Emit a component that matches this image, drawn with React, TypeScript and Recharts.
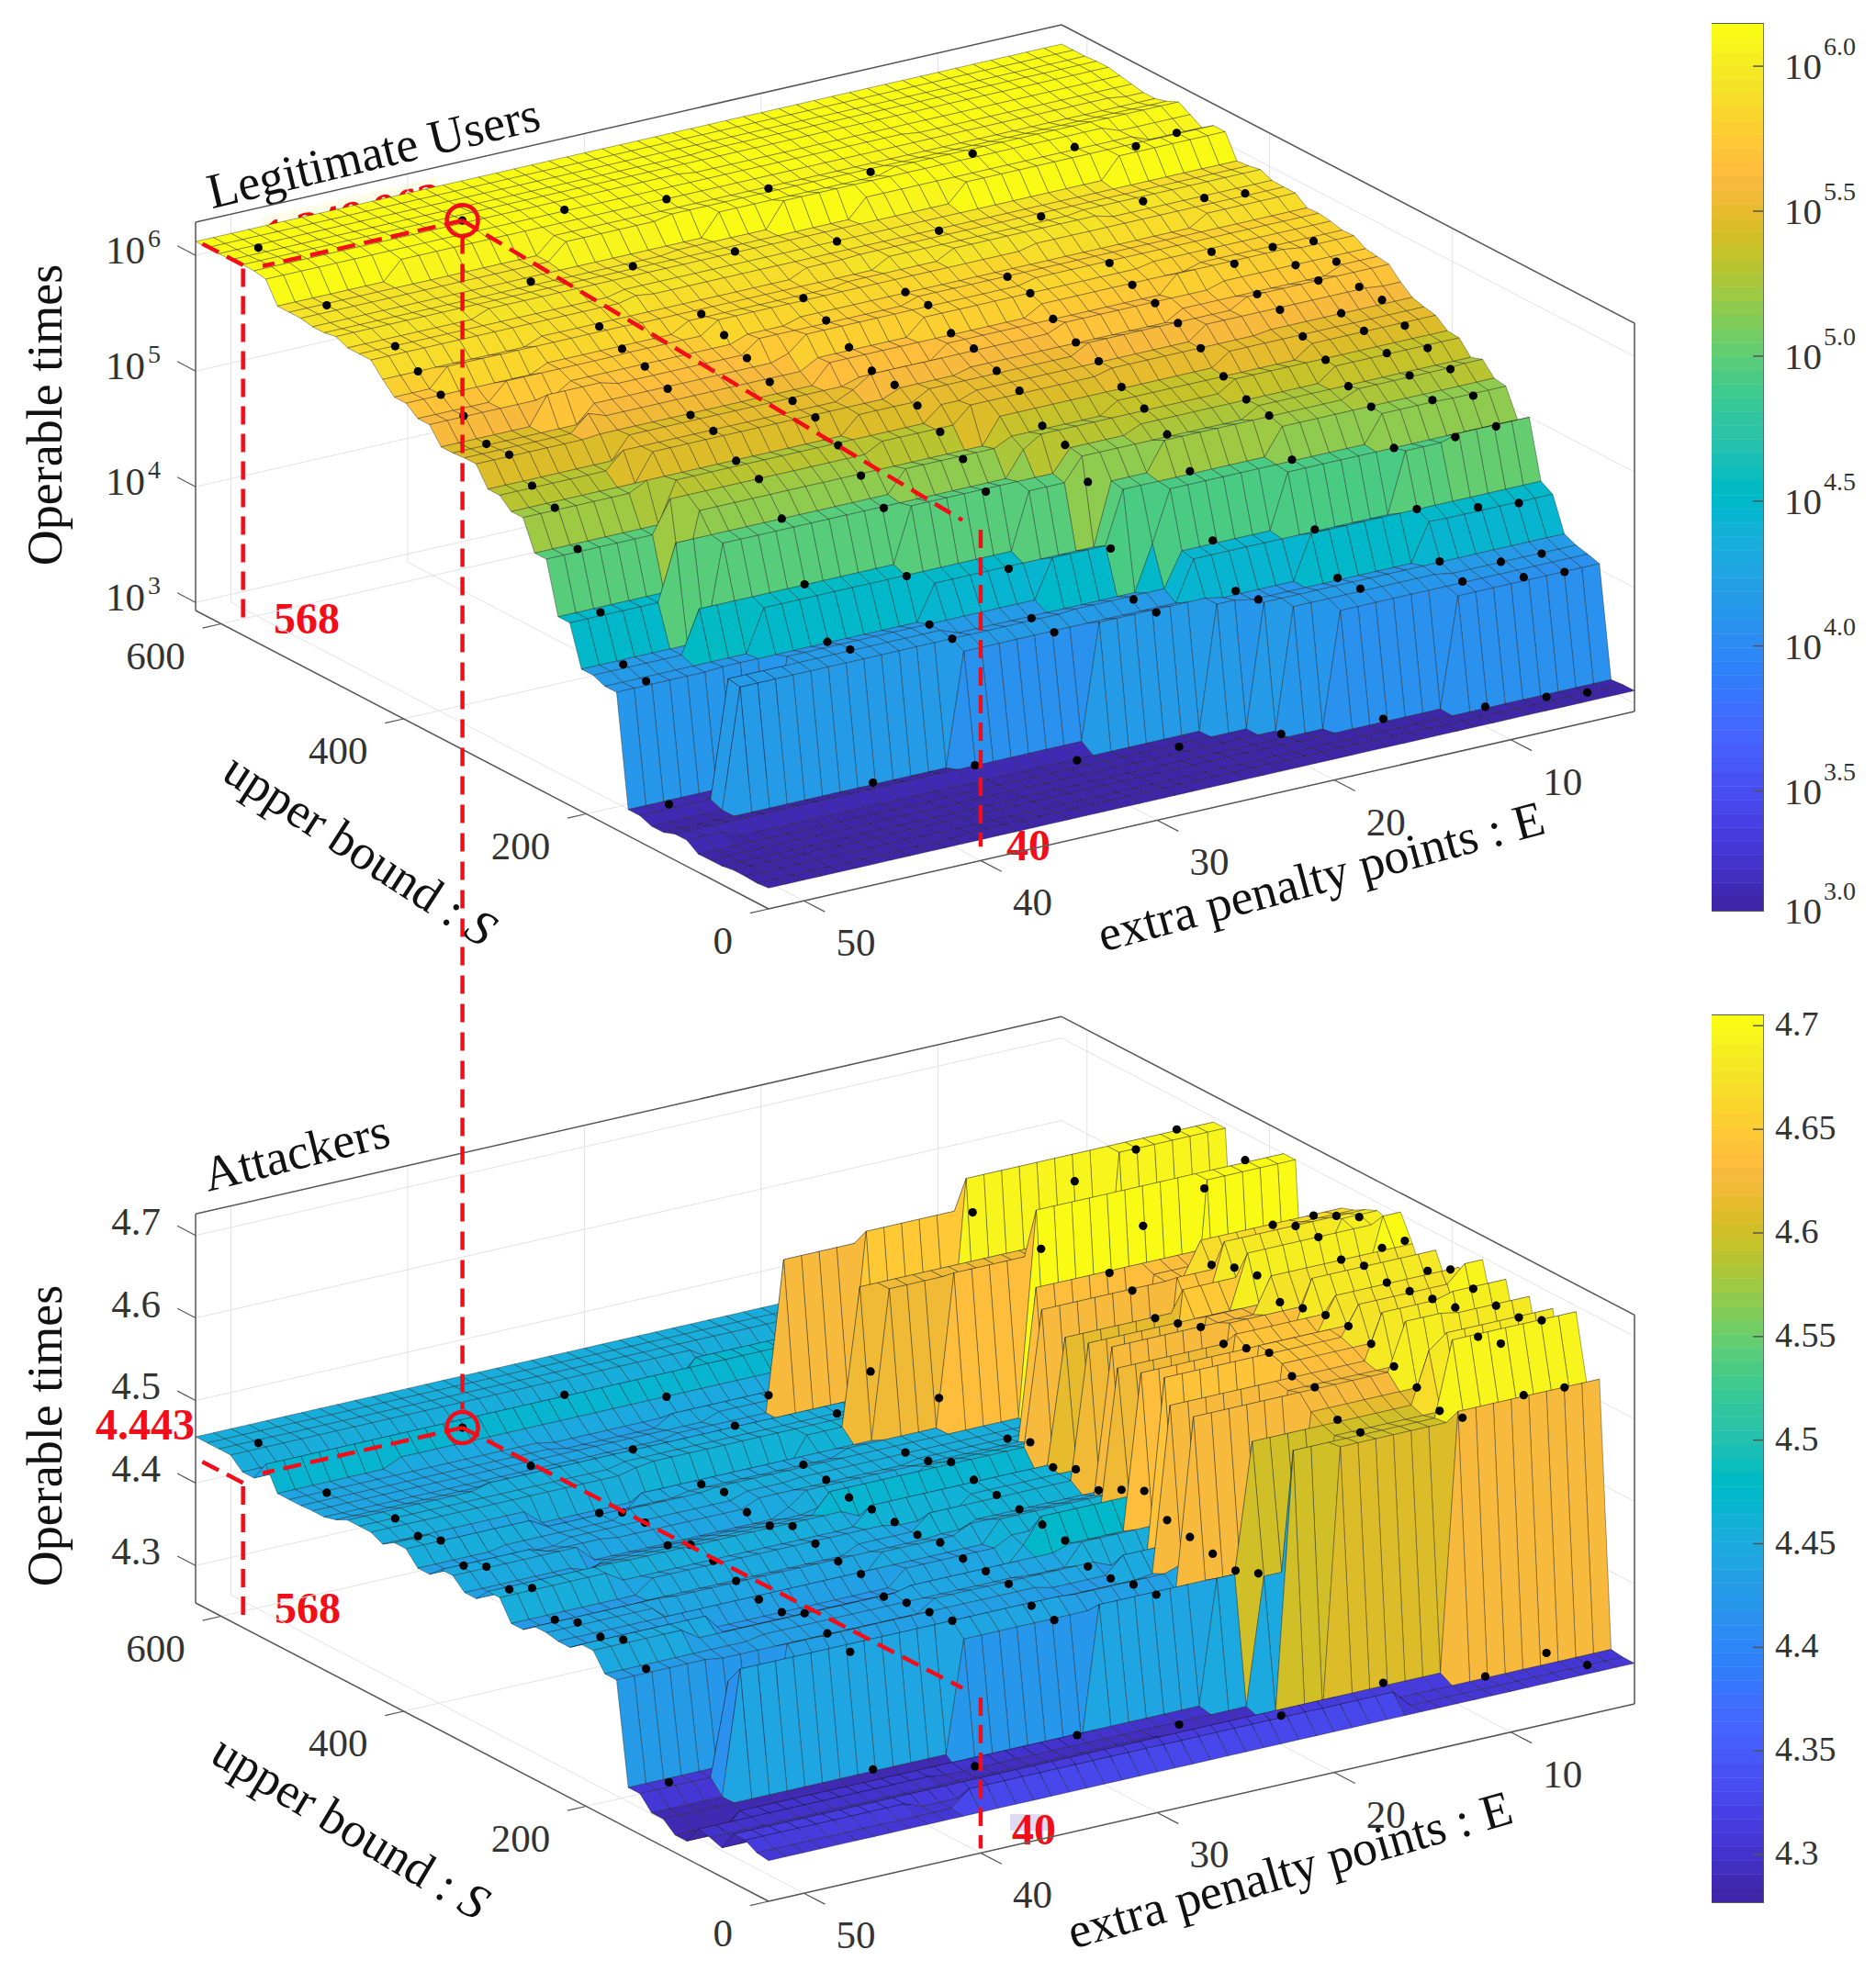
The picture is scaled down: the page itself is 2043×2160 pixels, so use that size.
import { BarChart, Bar, XAxis, YAxis, ReferenceArea, ScatterChart, Scatter } from "recharts";

// sampled settings: penalty points E, and the upper bound S = 3E + offset for each row
const penaltyPoints = [5, 7, 10, 15, 20, 25, 30, 35, 40, 50];
const boundOffsets = [448, 373, 298, 273, 248, 223, 198, 173, 148, 123, 98, 73, 48, 23, -2];

// log10(operable times), columns follow penaltyPoints
const legitimateZ = [
  [6.1, 6.03, 6.09, 6.146, 6.1, 6.07, 6.09, 6.11, 6.13, 6.12],
  [5.885, 5.89, 5.93, 5.91, 5.9, 5.92, 5.945, 5.93, 5.91, 5.93],
  [5.78, 5.775, 5.8, 5.816, 5.81, 5.79, 5.85, 5.825, 5.83, 5.885],
  [5.705, 5.72, 5.8, 5.73, 5.77, 5.78, 5.76, 5.745, 5.74, 5.77],
  [5.59, 5.69, 5.64, 5.675, 5.65, 5.64, 5.63, 5.65, 5.69, 5.67],
  [5.58, 5.51, 5.607, 5.605, 5.55, 5.61, 5.53, 5.546, 5.6, 5.59],
  [5.46, 5.46, 5.48, 5.49, 5.49, 5.52, 5.51, 5.485, 5.475, 5.45],
  [5.37, 5.37, 5.38, 5.35, 5.37, 5.45, 5.435, 5.445, 5.44, 5.46],
  [5.29, 5.28, 5.255, 5.253, 5.286, 5.25, 5.31, 5.306, 5.285, 5.295],
  [5.163, 5.17, 5.18, 5.216, 5.166, 5.187, 5.178, 5.147, 5.23, 5.207],
  [5.0, 4.953, 4.926, 4.937, 4.95, 4.97, 4.998, 4.97, 4.99, 4.953],
  [4.44, 4.448, 4.5, 4.436, 4.454, 4.497, 4.434, 4.483, 4.525, 4.508],
  [4.105, 4.08, 4.15, 4.12, 4.12, 4.16, 4.11, 4.167, 4.13, 4.16],
  [4.05, 4.05, 4.08, 4.13, 4.15, 4.15, 4.09, 4.147, 4.167, 4.118],
  [3.11, 3.118, 3.1, 3.107, 3.09, 3.09, 3.087, 3.156, 3.118, 3.157],
];

const attackerZ = [
  [4.694, 4.676, 4.647, 4.625, 4.448, 4.435, 4.449, 4.467, 4.443, 4.456],
  [4.7, 4.672, 4.636, 4.624, 4.459, 4.456, 4.457, 4.444, 4.44, 4.439],
  [4.676, 4.671, 4.632, 4.638, 4.453, 4.452, 4.453, 4.445, 4.426, 4.451],
  [4.69, 4.684, 4.643, 4.631, 4.463, 4.456, 4.449, 4.45, 4.441, 4.444],
  [4.703, 4.685, 4.648, 4.612, 4.447, 4.469, 4.442, 4.44, 4.443, 4.453],
  [4.68, 4.672, 4.63, 4.62, 4.459, 4.462, 4.442, 4.438, 4.43, 4.437],
  [4.703, 4.679, 4.637, 4.63, 4.448, 4.458, 4.441, 4.452, 4.445, 4.45],
  [4.681, 4.673, 4.643, 4.624, 4.463, 4.455, 4.44, 4.445, 4.44, 4.437],
  [4.697, 4.677, 4.644, 4.633, 4.476, 4.451, 4.445, 4.438, 4.43, 4.453],
  [4.688, 4.682, 4.637, 4.642, 4.455, 4.446, 4.44, 4.437, 4.422, 4.429],
  [4.682, 4.686, 4.624, 4.628, 4.449, 4.429, 4.439, 4.424, 4.421, 4.44],
  [4.682, 4.665, 4.613, 4.629, 4.443, 4.429, 4.438, 4.431, 4.434, 4.437],
  [4.693, 4.671, 4.599, 4.604, 4.437, 4.436, 4.426, 4.434, 4.424, 4.448],
  [4.626, 4.623, 4.605, 4.603, 4.448, 4.438, 4.423, 4.438, 4.416, 4.427],
  [4.304, 4.325, 4.306, 4.314, 4.29, 4.295, 4.298, 4.276, 4.288, 4.304],
];

const eTicks = [50, 40, 30, 20, 10];
const sTicks = [0, 200, 400, 600];
const legitimateZTicks = [3, 4, 5, 6];
const attackerZTicks = [4.3, 4.4, 4.5, 4.6, 4.7];
const legitimateBarTicks = [3.087, 3.5, 4, 4.5, 5, 5.5, 6];
const legitimateBarLabels = ["3.0", "3.5", "4.0", "4.5", "5.0", "5.5", "6.0"];
const attackerBarTicks = [4.3, 4.35, 4.4, 4.45, 4.5, 4.55, 4.6, 4.65, 4.7];

const parula = [
  [0.2422, 0.1504, 0.6603], [0.2504, 0.165, 0.7076], [0.2578, 0.1818, 0.7511], [0.2647, 0.1978, 0.7952],
  [0.2706, 0.2147, 0.8364], [0.2751, 0.2342, 0.871], [0.2783, 0.2559, 0.8991], [0.2803, 0.2782, 0.9221],
  [0.2813, 0.3006, 0.9414], [0.281, 0.3228, 0.9579], [0.2795, 0.3447, 0.9717], [0.276, 0.3667, 0.9829],
  [0.2699, 0.3892, 0.9906], [0.2602, 0.4123, 0.9952], [0.244, 0.4358, 0.9988], [0.2206, 0.4603, 0.9973],
  [0.1963, 0.4847, 0.9892], [0.1834, 0.5074, 0.9798], [0.1786, 0.5289, 0.9682], [0.1764, 0.5499, 0.952],
  [0.1687, 0.5703, 0.9359], [0.154, 0.5902, 0.9218], [0.146, 0.6091, 0.9079], [0.138, 0.6276, 0.8973],
  [0.1248, 0.6459, 0.8883], [0.1113, 0.6635, 0.8763], [0.0952, 0.6798, 0.8598], [0.0689, 0.6948, 0.8394],
  [0.0297, 0.7082, 0.8163], [0.0036, 0.7203, 0.7917], [0.0067, 0.7312, 0.766], [0.0433, 0.7411, 0.7394],
  [0.0964, 0.75, 0.712], [0.1408, 0.7584, 0.6842], [0.1717, 0.767, 0.6554], [0.1938, 0.7758, 0.6251],
  [0.2161, 0.7843, 0.5923], [0.247, 0.7918, 0.5567], [0.2906, 0.7973, 0.5188], [0.3406, 0.8008, 0.4789],
  [0.3909, 0.8029, 0.4354], [0.4456, 0.8024, 0.3909], [0.5044, 0.7993, 0.348], [0.5616, 0.7942, 0.3045],
  [0.6174, 0.7876, 0.2612], [0.672, 0.7793, 0.2227], [0.7242, 0.7698, 0.191], [0.7738, 0.7598, 0.1646],
  [0.8203, 0.7498, 0.1535], [0.8634, 0.7406, 0.1596], [0.9035, 0.733, 0.1774], [0.9393, 0.7288, 0.21],
  [0.9728, 0.7298, 0.2394], [0.9956, 0.7434, 0.2371], [0.997, 0.7659, 0.2199], [0.9952, 0.7893, 0.2028],
  [0.9892, 0.8136, 0.1885], [0.9786, 0.8386, 0.1766], [0.9676, 0.8639, 0.1643], [0.961, 0.889, 0.1537],
  [0.9597, 0.9135, 0.1423], [0.9628, 0.9373, 0.1265], [0.9691, 0.9606, 0.1064], [0.9769, 0.9839, 0.0805],
];
const colors = parula.map((c) => `rgb(${c.map((v) => Math.round(v * 255)).join(",")})`);

const SERIF = "'Liberation Serif', serif";
const RED = "#f20d18";
const E_MIN = 3;
const E_MAX = 52;
const S_MAX = 628;

type Box = { floorY: number; zFloor: number; zTop: number; zScale: number; cMin: number; cMax: number };
const topBox: Box = { floorY: 990, zFloor: 2.93, zTop: 6.287, zScale: 126, cMin: 3.087, cMax: 6.146 };
const lowBox: Box = { floorY: 2071, zFloor: 4.2547, zTop: 4.726, zScale: 899, cMin: 4.277, cMax: 4.705 };

// the fixed MATLAB view, as a linear map from (E, S, z) to the page
const project = (b: Box, e: number, s: number, z: number) => ({
  x: 837 + (E_MAX - e) * 19.245 - s * 0.9936,
  y: b.floorY - (E_MAX - e) * 4.388 - s * 0.5175 - (z - b.zFloor) * b.zScale,
});

const nearestZ = (table: number[][], e: number, s: number) => {
  let best = Infinity;
  let out = 0;
  boundOffsets.forEach((off, i) => {
    penaltyPoints.forEach((pe, j) => {
      const d = (e - pe) ** 2 + (s - (3 * pe + off)) ** 2;
      if (d < best) {
        best = d;
        out = table[i][j];
      }
    });
  });
  return out;
};

const meshE = Array.from({ length: 50 }, (_, i) => E_MIN + i);
const meshS = Array.from({ length: 50 }, (_, i) => (S_MAX * i) / 49);

// mesh faces back to front, each taking the value of the read sample closest to the node
const buildFaces = (b: Box, table: number[][]) => {
  const grid = meshS.map((s) => meshE.map((e) => nearestZ(table, e, s)));
  const faces: any[] = [];
  for (let i = meshS.length - 2; i >= 0; i--) {
    for (let j = 0; j < meshE.length - 1; j++) {
      const poly = [
        project(b, meshE[j], meshS[i], grid[i][j]),
        project(b, meshE[j + 1], meshS[i], grid[i][j + 1]),
        project(b, meshE[j + 1], meshS[i + 1], grid[i + 1][j + 1]),
        project(b, meshE[j], meshS[i + 1], grid[i + 1][j]),
      ];
      const t = (grid[i + 1][j] - b.cMin) / (b.cMax - b.cMin);
      const idx = Math.max(0, Math.min(63, Math.floor(t * 64)));
      faces.push({ x: poly[0].x, y: poly[0].y, poly, fill: colors[idx] });
    }
  }
  return faces;
};

const buildDots = (b: Box, table: number[][]) =>
  boundOffsets.flatMap((off, i) =>
    penaltyPoints.map((e, j) => project(b, e, 3 * e + off, table[i][j]))
  );

const seg = (p: any, q: any, stroke: string, w: number, dash?: string) => ({
  x: p.x,
  y: p.y,
  x2: q.x,
  y2: q.y,
  stroke,
  w,
  dash,
});

const buildGrid = (b: Box, zTicks: number[]) => {
  const c = "#e3e3e3";
  const lo = b.zFloor;
  const hi = b.zTop;
  const out: any[] = [];
  eTicks.forEach((e) => {
    out.push(seg(project(b, e, 0, lo), project(b, e, S_MAX, lo), c, 1));
    out.push(seg(project(b, e, S_MAX, lo), project(b, e, S_MAX, hi), c, 1));
  });
  sTicks.forEach((s) => {
    out.push(seg(project(b, E_MAX, s, lo), project(b, E_MIN, s, lo), c, 1));
    out.push(seg(project(b, E_MIN, s, lo), project(b, E_MIN, s, hi), c, 1));
  });
  zTicks.forEach((z) => {
    out.push(seg(project(b, E_MAX, S_MAX, z), project(b, E_MIN, S_MAX, z), c, 1));
    out.push(seg(project(b, E_MIN, S_MAX, z), project(b, E_MIN, 0, z), c, 1));
  });
  return out;
};

const buildFrame = (b: Box, zTicks: number[]) => {
  const c = "#555555";
  const lo = b.zFloor;
  const hi = b.zTop;
  const out: any[] = [
    seg(project(b, E_MAX, S_MAX, lo), project(b, E_MAX, S_MAX, hi), c, 1.5),
    seg(project(b, E_MAX, S_MAX, hi), project(b, E_MIN, S_MAX, hi), c, 1.5),
    seg(project(b, E_MIN, S_MAX, hi), project(b, E_MIN, 0, hi), c, 1.5),
    seg(project(b, E_MIN, 0, hi), project(b, E_MIN, 0, lo), c, 1.5),
    seg(project(b, E_MAX, S_MAX, lo), project(b, E_MAX, 0, lo), c, 1.5),
    seg(project(b, E_MAX, 0, lo), project(b, E_MIN, 0, lo), c, 1.5),
  ];
  eTicks.forEach((e) => out.push(seg(project(b, e, 0, lo), project(b, e, -23, lo), c, 1.2)));
  sTicks.forEach((s) => out.push(seg(project(b, E_MAX, s, lo), project(b, E_MAX + 1.05, s, lo), c, 1.2)));
  zTicks.forEach((z) => out.push(seg(project(b, E_MAX, S_MAX, z), project(b, E_MAX, S_MAX + 20, z), c, 1.2)));
  return out;
};

const buildTickLabels = (b: Box, zTicks: number[], sup: boolean) => {
  const out: any[] = [];
  eTicks.forEach((e) => {
    const p = project(b, e, 0, b.zFloor);
    out.push({ ...p, text: String(e), dx: 35, dy: 60, anchor: "start" });
  });
  sTicks.forEach((s) => {
    const p = project(b, E_MAX, s, b.zFloor);
    out.push({ ...p, text: String(s), dx: -39, dy: 49, anchor: "end" });
  });
  zTicks.forEach((z) => {
    const p = project(b, E_MAX, S_MAX, z);
    if (sup) out.push({ ...p, text: "10", sup: String(z), dx: -38, dy: 9, anchor: "end" });
    else out.push({ ...p, text: z.toFixed(1), dx: -38, dy: -1, anchor: "end" });
  });
  return out;
};

const RedPaths = (b: Box, z: number, zLow: number, farZ: number, cornerZ: number) => {
  const dash = "20 10";
  return [
    seg(project(b, 40, 568, z), project(b, 51.3, 568, z), RED, 4.5, dash),
    seg(project(b, E_MAX, 576, cornerZ), project(b, E_MAX, S_MAX, cornerZ), RED, 4.5, dash),
    seg(project(b, E_MAX, 576, cornerZ - 0.03 / (b.zScale / 126) ), project(b, E_MAX, 576, zLow), RED, 4.5, dash),
    seg(project(b, 40, 568, z), project(b, 40, 20, farZ), RED, 4.5, dash),
    seg(project(b, 40, 0, farZ), project(b, 40, 0, zLow), RED, 4.5, dash),
  ];
};

const surfaces = [...buildFaces(topBox, legitimateZ), ...buildFaces(lowBox, attackerZ)];
const samples = [...buildDots(topBox, legitimateZ), ...buildDots(lowBox, attackerZ)];
const gridLines = [...buildGrid(topBox, legitimateZTicks), ...buildGrid(lowBox, attackerZTicks)];
const frameLines = [...buildFrame(topBox, legitimateZTicks), ...buildFrame(lowBox, attackerZTicks)];
const tickLabels = [
  ...buildTickLabels(topBox, legitimateZTicks, true),
  ...buildTickLabels(lowBox, attackerZTicks, false),
];
const redLines = [
  ...RedPaths(topBox, 6.13, 3.05, 5.79, 6.13),
  ...RedPaths(lowBox, 4.443, 4.26, 4.443, 4.43),
  seg(project(topBox, 40, 568, 6.0), project(lowBox, 40, 568, 4.465), RED, 4.5, "20 11"),
];
const rings = [project(topBox, 40, 568, 6.13), project(lowBox, 40, 568, 4.443)];

const lineShape = (props: any) => {
  const { cx, cy, payload: r } = props;
  return (
    <line
      x1={cx}
      y1={cy}
      x2={cx + r.x2 - r.x}
      y2={cy + r.y2 - r.y}
      stroke={r.stroke}
      strokeWidth={r.w}
      strokeDasharray={r.dash}
    />
  );
};

const faceShape = (props: any) => {
  const { cx, cy, payload: r } = props;
  const pts = r.poly.map((p: any) => `${(cx + p.x - r.x).toFixed(1)},${(cy + p.y - r.y).toFixed(1)}`).join(" ");
  return <polygon points={pts} fill={r.fill} stroke="rgba(20,20,20,0.38)" strokeWidth={1} />;
};

const dotShape = (props: any) => <circle cx={props.cx} cy={props.cy} r={4.6} fill="#000" />;
const ringShape = (props: any) => (
  <circle cx={props.cx} cy={props.cy} r={17} fill="none" stroke={RED} strokeWidth={4.5} />
);

const tickLabelShape = (props: any) => {
  const { cx, cy, payload: r } = props;
  return (
    <text x={cx + r.dx} y={cy + r.dy} textAnchor={r.anchor} fontFamily={SERIF} fontSize={43} fill="#333">
      {r.text}
      {r.sup ? (
        <tspan dx={3} dy={-18} fontSize={28}>
          {r.sup}
        </tspan>
      ) : null}
    </text>
  );
};

const Title = ({ x, y, rot, size = 54, children }: any) => (
  <text
    x={x}
    y={y}
    transform={`rotate(${rot} ${x} ${y})`}
    textAnchor="middle"
    dominantBaseline="middle"
    fontFamily={SERIF}
    fontSize={size}
    fill="#111"
  >
    {children}
  </text>
);

const RedText = ({ x, y, rot = 0, size = 48, children }: any) => (
  <text
    x={x}
    y={y}
    transform={`rotate(${rot} ${x} ${y})`}
    textAnchor="middle"
    dominantBaseline="middle"
    fontFamily={SERIF}
    fontWeight="bold"
    fontSize={size}
    fill={RED}
  >
    {children}
  </text>
);

const ColorBar = ({ left, top, height, cMin, cMax, ticks, renderTick }: any) => {
  const step = (cMax - cMin) / colors.length;
  const row: any = { name: "bar", base: cMin };
  colors.forEach((_, i) => (row[`c${i}`] = step));
  return (
    <div style={{ position: "absolute", left, top: top - 30 }}>
      <BarChart
        width={180}
        height={height + 60}
        data={[row]}
        barCategoryGap={0}
        margin={{ top: 30, bottom: 30, left: 0, right: 0 }}
      >
        <XAxis dataKey="name" hide />
        <YAxis
          type="number"
          domain={[cMin, cMax]}
          allowDataOverflow
          orientation="right"
          width={124}
          ticks={ticks}
          interval={0}
          axisLine={false}
          tickLine={false}
          tickSize={0}
          tickMargin={0}
          tick={renderTick}
        />
        <Bar dataKey="base" stackId="cbar" fill="none" isAnimationActive={false} />
        {colors.map((c, i) => (
          <Bar key={c + i} dataKey={`c${i}`} stackId="cbar" fill={c} stroke={c} strokeWidth={0.5} isAnimationActive={false} />
        ))}
        <ReferenceArea y1={cMin} y2={cMax} fill="none" stroke="#5a5a5a" strokeWidth={2} ifOverflow="visible" />
      </BarChart>
    </div>
  );
};

const powerTick = ({ x, y, payload, index }: any) => (
  <g>
    {index > 0 ? <line x1={x - 11} x2={x} y1={y} y2={y} stroke="#555" strokeWidth={1.5} /> : null}
    <text x={x + 23} y={y + 14} fontFamily={SERIF} fontSize={41} fill="#333">
      10
      <tspan dx={2} dy={-26} fontSize={28}>
        {legitimateBarLabels[legitimateBarTicks.indexOf(payload.value)]}
      </tspan>
    </text>
  </g>
);

const plainTick = ({ x, y, payload }: any) => (
  <g>
    <line x1={x - 11} x2={x} y1={y} y2={y} stroke="#555" strokeWidth={1.5} />
    <text x={x + 13} y={y + 11} fontFamily={SERIF} fontSize={38} fill="#333">
      {String(payload.value)}
    </text>
  </g>
);

export default function App() {
  return (
    <div style={{ position: "absolute", left: 0, top: 0, width: 2043, height: 2160, background: "#fff" }}>
      <div style={{ position: "absolute", left: 0, top: 0 }}>
        <ScatterChart width={2043} height={2160} margin={{ top: 0, right: 0, bottom: 0, left: 0 }}>
          <XAxis type="number" dataKey="x" domain={[0, 2043]} hide />
          <YAxis type="number" dataKey="y" domain={[0, 2160]} reversed hide />
          <Scatter data={gridLines} shape={lineShape} isAnimationActive={false} />
          <Scatter data={frameLines} shape={lineShape} isAnimationActive={false} />
          <Scatter data={surfaces} shape={faceShape} isAnimationActive={false} />
          <Scatter data={samples} shape={dotShape} isAnimationActive={false} />
          <Scatter data={redLines} shape={lineShape} isAnimationActive={false} />
          <Scatter data={rings} shape={ringShape} isAnimationActive={false} />
          <Scatter data={tickLabels} shape={tickLabelShape} isAnimationActive={false} />

          <g transform="rotate(-13 386 241)">
            <rect x={288} y={214} width={196} height={52} fill="#fffde4" fillOpacity={0.9} />
          </g>
          <rect x={1100} y={1976} width={42} height={18} fill="#d9d5f0" fillOpacity={0.85} />

          <Title x={408} y={172} rot={-13.5}>Legitimate Users</Title>
          <Title x={324} y={1261} rot={-14}>Attackers</Title>
          <Title x={55} y={452} rot={-90}>Operable times</Title>
          <Title x={55} y={1564} rot={-90}>Operable times</Title>
          <Title x={1440} y={960} rot={-15}>extra penalty points : E</Title>
          <Title x={1406} y={2042} rot={-16}>extra penalty points : E</Title>
          <Title x={389} y={930} rot={33}>
            upper bound : <tspan fontStyle="italic">S</tspan>
          </Title>
          <Title x={379} y={1995} rot={31}>
            upper bound : <tspan fontStyle="italic">S</tspan>
          </Title>

          <RedText x={386} y={241} rot={-13} size={49}>1,348,963</RedText>
          <RedText x={158} y={1557}>4.443</RedText>
          <RedText x={334} y={679}>568</RedText>
          <RedText x={335} y={1757}>568</RedText>
          <RedText x={1120} y={926}>40</RedText>
          <RedText x={1126} y={1998}>40</RedText>
        </ScatterChart>
      </div>
      <ColorBar
        left={1864}
        top={26}
        height={966}
        cMin={topBox.cMin}
        cMax={topBox.cMax}
        ticks={legitimateBarTicks}
        renderTick={powerTick}
      />
      <ColorBar
        left={1864}
        top={1106}
        height={966}
        cMin={lowBox.cMin}
        cMax={lowBox.cMax}
        ticks={attackerBarTicks}
        renderTick={plainTick}
      />
    </div>
  );
}
